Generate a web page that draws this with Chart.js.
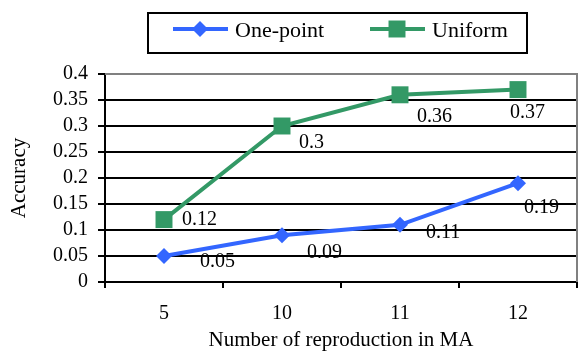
<!DOCTYPE html>
<html>
<head>
    <title>Accuracy vs reproduction</title>
    <script src="https://cdn.jsdelivr.net/npm/chart.js"></script>
    <style>
        body { margin: 0; background: #fff; }
        #wrap { width: 579px; height: 356px; }
    </style>
</head>
<body>
    <div id="wrap">
        <canvas id="accChart" width="579" height="356"></canvas>
    </div>

    <script>
        // values
        const categories = ["5", "10", "11", "12"];
        const onePoint = [0.05, 0.09, 0.11, 0.19];
        const uniform = [0.12, 0.3, 0.36, 0.37];
        const yTicks = [0, 0.05, 0.1, 0.15, 0.2, 0.25, 0.3, 0.35, 0.4];

        const serif = "'Liberation Serif', 'Times New Roman', serif";
        const blue = "#3366FF";
        const green = "#339966";

        // label offsets (px) from each point, as placed in the original
        const labelOffsets = [
            [[36, 6], [25, 18], [26, 8], [6, 25]],
            [[18, 0], [17, 17], [17, 22], [-8, 23]]
        ];

        // draws the value labels beside the points
        const valueLabels = {
            id: "valueLabels",
            afterDatasetsDraw(chart) {
                const ctx = chart.ctx;
                ctx.save();
                ctx.font = "20px " + serif;
                ctx.fillStyle = "#000";
                ctx.textAlign = "left";
                ctx.textBaseline = "middle";
                chart.data.datasets.forEach((ds, i) => {
                    chart.getDatasetMeta(i).data.forEach((pt, j) => {
                        const off = labelOffsets[i][j];
                        ctx.fillText(String(ds.data[j]), pt.x + off[0], pt.y + off[1]);
                    });
                });
                ctx.restore();
            }
        };

        // grey border on top and right of the plot, like the original
        const plotFrame = {
            id: "plotFrame",
            beforeDatasetsDraw(chart) {
                const a = chart.chartArea;
                const ctx = chart.ctx;
                ctx.save();
                ctx.strokeStyle = "#808080";
                ctx.lineWidth = 2;
                ctx.beginPath();
                ctx.moveTo(a.left, a.top);
                ctx.lineTo(a.right, a.top);
                ctx.lineTo(a.right, a.bottom);
                ctx.stroke();
                ctx.restore();
            }
        };

        // boxed legend with line + marker samples
        const boxLegend = {
            id: "boxLegend",
            afterDraw(chart) {
                const ctx = chart.ctx;
                ctx.save();
                ctx.strokeStyle = "#000";
                ctx.lineWidth = 2;
                ctx.strokeRect(148, 13, 379, 40);
                const items = [
                    { x: 173, ds: chart.data.datasets[0] },
                    { x: 370, ds: chart.data.datasets[1] }
                ];
                items.forEach(it => {
                    const y = 29;
                    ctx.strokeStyle = it.ds.borderColor;
                    ctx.lineWidth = 4;
                    ctx.beginPath();
                    ctx.moveTo(it.x, y);
                    ctx.lineTo(it.x + 55, y);
                    ctx.stroke();
                    ctx.fillStyle = it.ds.borderColor;
                    Chart.helpers.drawPoint(ctx, {
                        pointStyle: it.ds.pointStyle,
                        radius: it.ds.pointRadius,
                        rotation: 0,
                        borderWidth: 0
                    }, it.x + 27, y);
                    ctx.fillStyle = "#000";
                    ctx.font = "22px " + serif;
                    ctx.textBaseline = "alphabetic";
                    ctx.fillText(it.ds.label, it.x + 62, 37);
                });
                ctx.restore();
            }
        };

        const ctx = document.getElementById("accChart").getContext("2d");
        const accChart = new Chart(ctx, {
            type: "line",
            data: {
                labels: categories,
                datasets: [
                    {
                        label: "One-point",
                        data: onePoint,
                        borderColor: blue,
                        backgroundColor: blue,
                        borderWidth: 4,
                        pointStyle: "rectRot",
                        pointRadius: 8,
                        pointBorderWidth: 0,
                        tension: 0
                    },
                    {
                        label: "Uniform",
                        data: uniform,
                        borderColor: green,
                        backgroundColor: green,
                        borderWidth: 4,
                        pointStyle: "rect",
                        pointRadius: 12,
                        pointBorderWidth: 0,
                        tension: 0
                    }
                ]
            },
            options: {
                responsive: false,
                animation: false,
                layout: {
                    autoPadding: false,
                    padding: { top: 74, right: 2, left: 0, bottom: 0 }
                },
                plugins: {
                    legend: { display: false },
                    tooltip: { enabled: false }
                },
                scales: {
                    x: {
                        offset: true,
                        grid: {
                            drawOnChartArea: false,
                            offset: true,
                            color: "#000",
                            lineWidth: 2,
                            tickLength: 6
                        },
                        border: { color: "#000", width: 2 },
                        ticks: {
                            color: "#000",
                            font: { family: serif, size: 20 },
                            padding: 14,
                            autoSkip: false,
                            maxRotation: 0
                        },
                        title: {
                            display: true,
                            text: "Number of reproduction in MA",
                            color: "#000",
                            font: { family: serif, size: 21 },
                            padding: { top: 4, bottom: 3 }
                        },
                        afterFit(scale) {
                            scale.height = 74;
                            scale.paddingLeft = 0;
                            scale.paddingRight = 0;
                        }
                    },
                    y: {
                        min: 0,
                        max: 0.4,
                        afterBuildTicks(scale) {
                            scale.ticks = yTicks.map(v => ({ value: v }));
                        },
                        grid: {
                            color: c => (c.tick && c.tick.value === 0.4 ? "#808080" : "#000"),
                            lineWidth: 2,
                            tickLength: 7,
                            tickColor: "#000"
                        },
                        border: { color: "#000", width: 2 },
                        ticks: {
                            color: "#000",
                            font: { family: serif, size: 20 },
                            padding: 10,
                            autoSkip: false,
                            callback: v => String(+v.toFixed(2))
                        },
                        title: {
                            display: true,
                            text: "Accuracy",
                            color: "#000",
                            font: { family: serif, size: 21 },
                            padding: { top: 7, bottom: 4 }
                        },
                        afterFit(scale) {
                            scale.width = 105;
                            scale.paddingTop = 0;
                            scale.paddingBottom = 0;
                        }
                    }
                }
            },
            plugins: [plotFrame, valueLabels, boxLegend]
        });
    </script>
</body>
</html>
